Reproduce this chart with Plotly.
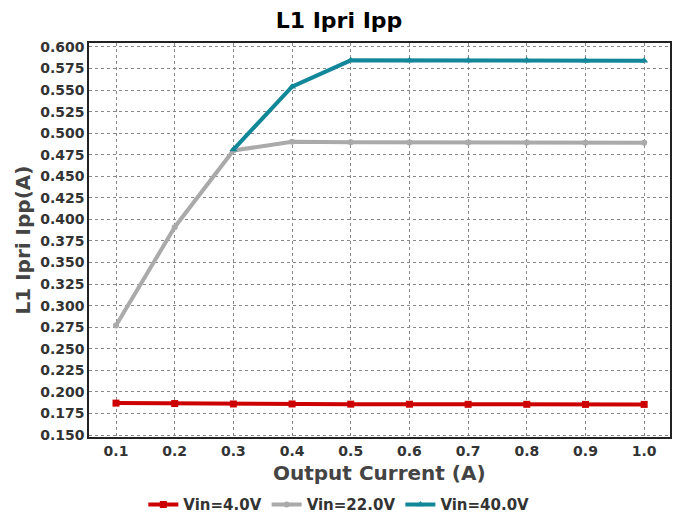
import plotly.graph_objects as go

x = [0.1, 0.2, 0.3, 0.4, 0.5, 0.6, 0.7, 0.8, 0.9, 1.0]
vin4 = [0.187, 0.1865, 0.186, 0.186, 0.1858, 0.1857, 0.1856, 0.1856, 0.1855, 0.1855]
vin22 = [0.277, 0.391, 0.480, 0.490, 0.4895, 0.4893, 0.4892, 0.4891, 0.489, 0.489]
vin40_x = [0.3, 0.4, 0.5, 0.6, 0.7, 0.8, 0.9, 1.0]
vin40 = [0.481, 0.554, 0.5845, 0.5843, 0.5842, 0.5842, 0.5841, 0.584]

font = "DejaVu Sans"
fig = go.Figure()
fig.add_trace(go.Scatter(x=x, y=vin4, name="<b>Vin=4.0V</b>", mode="lines+markers",
                         line=dict(color="#cc0000", width=4),
                         marker=dict(symbol="square", size=7, color="#cc0000")))
fig.add_trace(go.Scatter(x=x, y=vin22, name="<b>Vin=22.0V</b>", mode="lines+markers",
                         line=dict(color="#aaaaaa", width=4),
                         marker=dict(symbol="circle", size=6, color="#aaaaaa")))
fig.add_trace(go.Scatter(x=vin40_x, y=vin40, name="<b>Vin=40.0V</b>", mode="lines+markers",
                         line=dict(color="#12879a", width=4),
                         marker=dict(symbol="triangle-up", size=7, color="#12879a")))

fig.update_layout(
    width=678, height=515,
    margin=dict(l=89, r=8, t=43, b=78, autoexpand=False),
    paper_bgcolor="white", plot_bgcolor="white",
    title=dict(text="<b>L1 Ipri Ipp</b>", x=0.5, xanchor="center", y=0.975, yanchor="top",
               font=dict(family=font, size=22, color="black")),
    font=dict(family=font, color="#333333"),
    showlegend=True,
    legend=dict(orientation="h", x=0.43, xanchor="center", y=-0.13, yanchor="top",
                font=dict(family=font, size=15, color="#333333"),
                itemwidth=30, tracegroupgap=0),
    annotations=[dict(text="<b>Output Current (A)</b>", xref="paper", yref="paper",
                      x=0.5, y=-0.057, xanchor="center", yanchor="top", showarrow=False,
                      font=dict(family=font, size=20, color="#444444"))],
)
fig.update_xaxes(
    range=[0.054, 1.044], tickvals=x, ticktext=[f"<b>{v:.1f}</b>" for v in x],
    tickfont=dict(family=font, size=14, color="#333333"),
    showgrid=True, gridcolor="#888888", griddash="dot", gridwidth=1,
    showline=True, linecolor="#222222", linewidth=1.5, mirror=True, zeroline=False,
    ticks="", ticklen=0,
)
yt = [round(0.15 + 0.025 * i, 3) for i in range(19)]
fig.update_yaxes(
    range=[0.1477, 0.6046], tickvals=yt, ticktext=[f"<b>{v:.3f}</b>" for v in yt],
    tickfont=dict(family=font, size=14, color="#333333"),
    title=dict(text="<b>L1 Ipri Ipp(A)</b>", font=dict(family=font, size=20, color="#444444"), standoff=4),
    showgrid=True, gridcolor="#888888", griddash="dot", gridwidth=1,
    showline=True, linecolor="#222222", linewidth=1.5, mirror=True, zeroline=False,
    ticks="", ticklen=0,
)
fig.write_html("out.html")
